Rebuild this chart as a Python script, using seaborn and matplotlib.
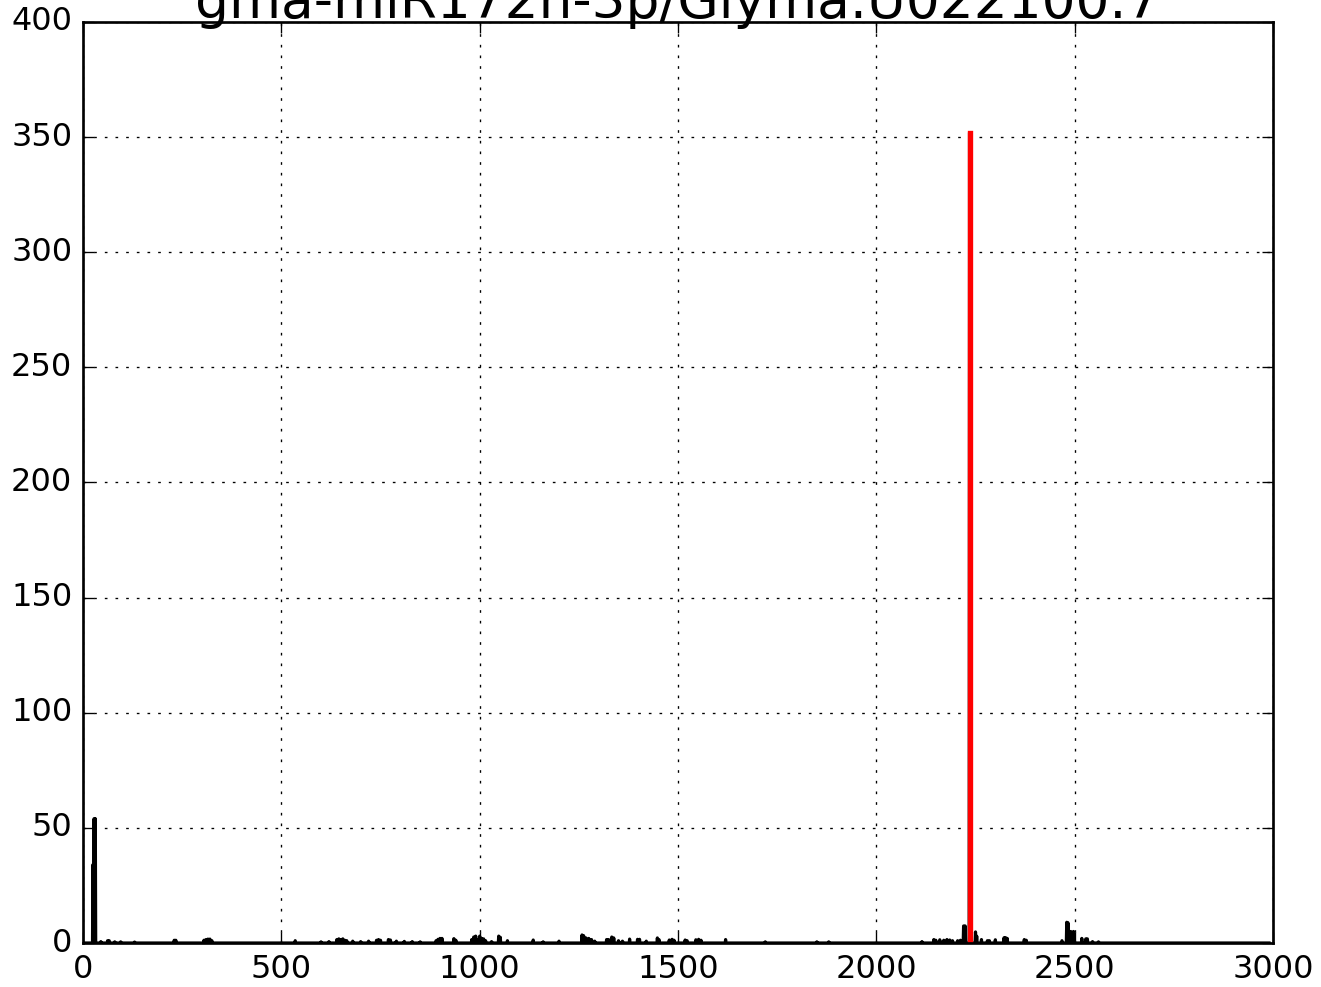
import numpy as np
import pandas as pd
import matplotlib
matplotlib.use("Agg")
import matplotlib.pyplot as plt
import seaborn as sns

title_text = "gma-miR172h-3p/Glyma.U022100.7"

# nonzero read positions (black) and their abundances
pos_nz = [25, 28, 31, 45, 62, 66, 80, 95, 130, 230, 234, 305, 310, 315, 320, 325,
          535, 600, 620, 640, 645, 650, 655, 660, 665, 680, 700, 720, 740, 745, 750,
          770, 775, 790, 810, 830, 850, 890, 895, 900, 905, 935, 940, 980, 985, 990,
          995, 1000, 1005, 1010, 1015, 1030, 1048, 1052, 1070, 1135, 1160, 1200, 1258,
          1262, 1268, 1275, 1282, 1290, 1320, 1325, 1333, 1338, 1350, 1360, 1378, 1398,
          1403, 1420, 1448, 1452, 1478, 1485, 1490, 1518, 1523, 1545, 1552, 1558, 1620,
          1720, 1850, 1880, 2115, 2145, 2150, 2160, 2170, 2178, 2185, 2192, 2205, 2212,
          2220, 2224, 2235, 2250, 2253, 2265, 2280, 2285, 2300, 2322, 2326, 2330, 2373, 2378,
          2468, 2480, 2483, 2490, 2497, 2518, 2528, 2532, 2545, 2560]
val_nz = [34, 54, 54, 0.6, 1.0, 1.0, 0.5, 0.5, 0.4, 1.2, 1.2, 1.2, 1.5, 1.7, 1.7, 1.0,
          1.0, 0.5, 0.6, 1.5, 1.8, 1.5, 1.8, 1.2, 1.0, 0.8, 0.6, 0.8, 1.2, 1.5, 1.2,
          1.5, 1.3, 0.8, 0.7, 0.6, 0.5, 1.0, 1.6, 2.0, 2.0, 1.9, 1.2, 1.5, 2.6, 3.0,
          1.5, 3.0, 2.0, 1.8, 1.0, 0.6, 3.0, 2.5, 1.0, 1.3, 0.5, 0.8, 3.5,
          3.2, 2.2, 2.0, 1.5, 0.8, 1.5, 1.5, 2.6, 2.2, 1.0, 0.8, 1.7, 1.6,
          1.6, 0.8, 2.2, 1.5, 1.3, 1.6, 1.2, 1.3, 1.0, 1.4, 1.6, 1.2, 1.5,
          0.5, 0.5, 0.5, 0.6, 1.5, 1.2, 1.4, 1.2, 1.5, 1.3, 1.0, 1.0, 1.2,
          7.4, 7.4, 352, 4.8, 3.0, 1.5, 1.0, 1.0, 1.4, 2.3, 2.3, 2.0, 1.5, 1.2,
          1.0, 9.0, 8.8, 5.0, 5.0, 2.0, 1.8, 1.8, 0.6, 0.5]
transcript_len = 2990

# cleavage site (red)
target_pos = 2235
target_val = 352

x_ticks = [0, 500, 1000, 1500, 2000, 2500, 3000]
y_ticks = [0, 50, 100, 150, 200, 250, 300, 350, 400]

plt.style.use("classic")
plt.rcParams["font.family"] = ["DejaVu Sans"]

positions = np.arange(1, transcript_len + 1)
counts = np.zeros(transcript_len)
counts[np.array(pos_nz) - 1] = val_nz
df = pd.DataFrame({"pos": positions, "count": counts})
df_t = pd.DataFrame({"pos": [target_pos, target_pos], "count": [0, target_val]})

dpi = 192
fig = plt.figure(figsize=(1321 / dpi, 987 / dpi), dpi=dpi, facecolor="white")
ax = fig.add_axes([83 / 1321, 44 / 987, 1190 / 1321, 921 / 987])
ax.set_facecolor("white")

sns.lineplot(data=df, x="pos", y="count", color="black", linewidth=1.2,
             ax=ax, legend=False, estimator=None)
sns.lineplot(data=df_t, x="pos", y="count", color="red", linewidth=2.0,
             ax=ax, legend=False, estimator=None, sort=False)

ax.set_xlim(0, 3000)
ax.set_ylim(0, 400)
ax.set_xticks(x_ticks)
ax.set_yticks(y_ticks)
ax.set_xticklabels([str(t) for t in x_ticks])
ax.set_yticklabels([str(t) for t in y_ticks])
ax.set_xlabel("")
ax.set_ylabel("")
ax.tick_params(labelsize=12)
ax.grid(True, linestyle=":", color="black", linewidth=0.5)
ax.set_axisbelow(True)
ax.set_title(title_text, fontsize=20, pad=1.5)

fig.savefig("out.png", dpi=dpi, facecolor="white")
